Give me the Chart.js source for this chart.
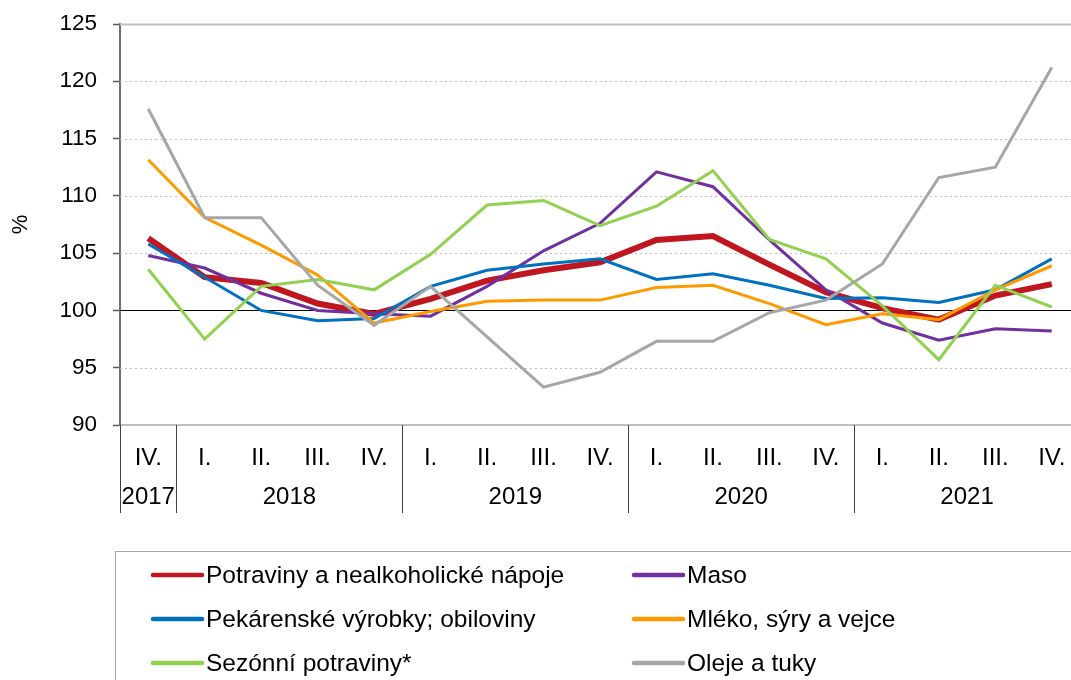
<!DOCTYPE html>
<html>
<head>
<meta charset="utf-8">
<script src="https://cdn.jsdelivr.net/npm/chart.js@4/dist/chart.umd.min.js"></script>
<style>
html,body{margin:0;padding:0;overflow:hidden;background:#fff;}
#wrap{position:absolute;left:0;top:0;width:1080px;height:680px;}
</style>
</head>
<body>
<div id="wrap"><canvas id="c"></canvas></div>
<script>
const quarters = ['IV.','I.','II.','III.','IV.','I.','II.','III.','IV.','I.','II.','III.','IV.','I.','II.','III.','IV.'];
const years = ['2017','2018','2018','2018','2018','2019','2019','2019','2019','2020','2020','2020','2020','2021','2021','2021','2021'];
const yTicks = [90,95,100,105,110,115,120,125];

const potraviny  = [106.3,102.9,102.4,100.6,99.7,101.0,102.6,103.5,104.2,106.15,106.5,104.0,101.6,100.2,99.2,101.3,102.3];
const maso       = [104.8,103.7,101.5,100.0,99.7,99.5,102.1,105.2,107.6,112.1,110.8,106.15,101.8,98.9,97.4,98.4,98.2];
const pekarenske = [105.8,102.9,100.0,99.1,99.3,102.1,103.5,104.05,104.5,102.7,103.2,102.2,101.05,101.1,100.7,101.8,104.5];
const mleko      = [113.15,108.1,105.7,103.1,98.9,99.9,100.8,100.9,100.9,102.0,102.2,100.6,98.75,99.7,99.2,101.8,103.9];
const sezonni    = [103.6,97.5,102.1,102.7,101.8,104.9,109.2,109.6,107.4,109.1,112.2,106.2,104.5,100.4,95.7,102.2,100.3];
const oleje      = [117.6,108.1,108.1,102.2,98.7,102.1,97.7,93.3,94.6,97.3,97.3,99.8,100.9,104.05,111.6,112.5,121.2];

const FONT = "'Liberation Sans', Arial, sans-serif";

const ds = (label, data, color, w) => ({
  label, data, borderColor: color, backgroundColor: color, borderWidth: w,
  pointRadius: 0, pointHoverRadius: 0, tension: 0, fill: false
});

const datasets = [
  ds('Potraviny a nealkoholické nápoje', potraviny, '#C0161F', 6),
  ds('Maso', maso, '#7030A0', 3),
  ds('Pekárenské výrobky; obiloviny', pekarenske, '#0070C0', 3),
  ds('Mléko, sýry a vejce', mleko, '#FF9900', 3),
  ds('Sezónní potraviny*', sezonni, '#92D050', 3),
  ds('Oleje a tuky', oleje, '#A6A6A6', 3)
];
const drawOrder = [5,4,3,2,1,0];
datasets.forEach((d,i)=>{ d.order = drawOrder[i]; });

const gridPlugin = {
  id: 'gridPlugin',
  beforeDatasetsDraw(chart) {
    const {ctx, chartArea: a, scales: {y}} = chart;
    ctx.save();
    yTicks.forEach(v => {
      if (v === 90) return;
      const py = Math.round(y.getPixelForValue(v)) + 0.5;
      ctx.beginPath();
      if (v === 125) {
        ctx.strokeStyle = '#BFBFBF'; ctx.lineWidth = 2; ctx.setLineDash([]);
      } else if (v === 100) {
        ctx.strokeStyle = '#000'; ctx.lineWidth = 1; ctx.setLineDash([]);
      } else {
        ctx.strokeStyle = '#BFBFBF'; ctx.lineWidth = 1; ctx.setLineDash([2,3]);
      }
      ctx.moveTo(a.left, py); ctx.lineTo(a.right, py); ctx.stroke();
    });
    ctx.restore();
  },
  afterDraw(chart) {
    const {ctx, chartArea: a, scales: {x}} = chart;
    ctx.save();
    const half = (x.getPixelForValue(1) - x.getPixelForValue(0)) / 2;
    ctx.strokeStyle = '#404040'; ctx.lineWidth = 1; ctx.setLineDash([]);
    const sepBottom = a.bottom + 88;
    let start = 0;
    const groups = [];
    for (let i = 1; i <= years.length; i++) {
      if (i === years.length || years[i] !== years[start]) {
        groups.push([start, i - 1]);
        start = i;
      }
    }
    ctx.font = '24px ' + FONT; ctx.fillStyle = '#000';
    ctx.textAlign = 'center'; ctx.textBaseline = 'middle';
    groups.forEach(([s, e]) => {
      const left = x.getPixelForValue(s) - half;
      const cx = (x.getPixelForValue(s) + x.getPixelForValue(e)) / 2;
      ctx.beginPath();
      ctx.moveTo(Math.round(left) + 0.5, a.bottom);
      ctx.lineTo(Math.round(left) + 0.5, sepBottom);
      ctx.stroke();
      ctx.fillText(years[s], cx, a.bottom + 72);
    });
    // legend
    const bx = 115.5, by = 551.5;
    ctx.strokeStyle = '#A6A6A6'; ctx.lineWidth = 1;
    ctx.strokeRect(bx, by, 1200, 300);
    const colX = [151, 632];
    const rowY = [575, 619, 663];
    ctx.textAlign = 'left'; ctx.textBaseline = 'middle';
    ctx.font = '24.5px ' + FONT;
    chart.data.datasets.forEach((d, i) => {
      const cx0 = colX[i % 2], cy = rowY[Math.floor(i / 2)];
      ctx.beginPath();
      ctx.strokeStyle = d.borderColor; ctx.lineWidth = 4.5; ctx.lineCap = 'round';
      ctx.moveTo(cx0 + 2, cy); ctx.lineTo(cx0 + 51, cy); ctx.stroke();
      ctx.fillStyle = '#000';
      ctx.fillText(d.label, cx0 + 55, cy + 1);
    });
    ctx.restore();
  }
};

new Chart(document.getElementById('c'), {
  type: 'line',
  data: { labels: quarters, datasets },
  options: {
    responsive: true, maintainAspectRatio: false, animation: false,
    events: [],
    layout: { padding: { left: 0, right: 0, top: 24, bottom: 0 } },
    plugins: { legend: { display: false }, tooltip: { enabled: false } },
    scales: {
      x: {
        type: 'category', offset: true,
        grid: { display: false },
        border: { display: true, color: '#BFBFBF', width: 2 },
        ticks: { color: '#000', font: { family: FONT, size: 24 }, padding: 11, maxRotation: 0, autoSkip: false },
        afterFit(s) { s.height = 255; s.paddingLeft = 0; s.paddingRight = 0; }
      },
      y: {
        min: 90, max: 125,
        afterBuildTicks(s) { s.ticks = yTicks.map(v => ({ value: v })); },
        grid: { drawOnChartArea: false, drawTicks: true, tickLength: 7, color: '#595959', tickWidth: 1.5 },
        border: { display: true, color: '#6E6E6E', width: 2 },
        ticks: { color: '#000', font: { family: FONT, size: 22.5 }, padding: 16 },
        title: { display: true, text: '%', color: '#000', font: { family: FONT, size: 22 }, padding: { top: 8, bottom: 0 } },
        afterFit(s) { s.width = 120; s.paddingTop = 0; s.paddingBottom = 0; }
      }
    }
  },
  plugins: [gridPlugin]
});
</script>
</body>
</html>
